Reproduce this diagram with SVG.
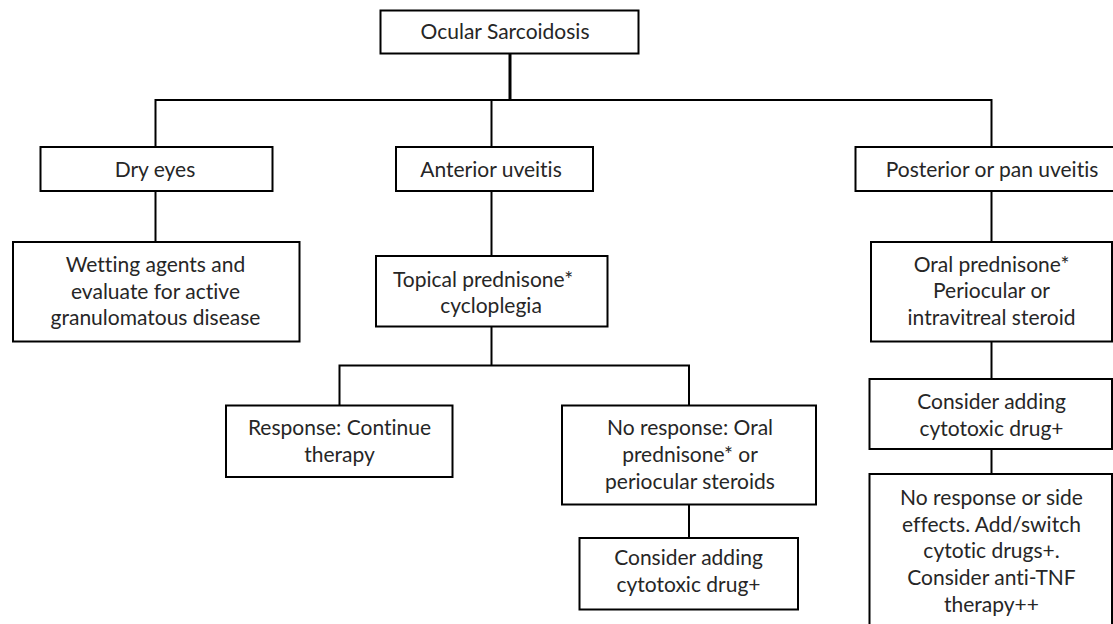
<svg xmlns="http://www.w3.org/2000/svg" width="1113" height="624" viewBox="0 0 1113 624">
<style>
  .box{fill:#fff;stroke:#000;stroke-width:2}
  .ln{fill:none;stroke:#000;stroke-width:2}
  text{font-family:Lato,"Liberation Sans",sans-serif;font-size:21px;fill:#262626;text-anchor:middle;font-variant-ligatures:none}
</style>
<rect width="1113" height="624" fill="#fff"/>
<g id="connectors">
  <path class="ln" d="M510,53 V100" style="stroke-width:3"/>
  <path class="ln" d="M155.5,147 V100 H991.5 V147"/>
  <path class="ln" d="M491.5,100 V147"/>
  <path class="ln" d="M155.5,191 V242"/>
  <path class="ln" d="M491.5,191 V256"/>
  <path class="ln" d="M491.5,326 V365.5"/>
  <path class="ln" d="M339.5,405 V365.5 H689 V405"/>
  <path class="ln" d="M689,504 V538"/>
  <path class="ln" d="M991.5,191 V242"/>
  <path class="ln" d="M991.5,341 V379"/>
  <path class="ln" d="M991.5,449 V474"/>
</g>
<g id="root">
  <rect class="box" x="380.5" y="10.5" width="258" height="43"/>
  <text x="505" y="38.5">Ocular Sarcoidosis</text>
</g>
<g id="dry-eyes">
  <rect class="box" x="40.5" y="147" width="232" height="44"/>
  <text x="155" y="177">Dry eyes</text>
</g>
<g id="anterior">
  <rect class="box" x="396" y="147" width="197" height="44"/>
  <text x="491" y="177">Anterior uveitis</text>
</g>
<g id="posterior">
  <rect class="box" x="855.5" y="147" width="280" height="44"/>
  <text x="992" y="177">Posterior or pan uveitis</text>
</g>
<g id="wetting">
  <rect class="box" x="13" y="242" width="286.5" height="99.5"/>
  <text x="155.5" y="272">Wetting agents and</text>
  <text x="155.5" y="298.7">evaluate for active</text>
  <text x="155.5" y="325.3">granulomatous disease</text>
</g>
<g id="topical">
  <rect class="box" x="376" y="256" width="231.5" height="70.5"/>
  <text x="483" y="286.7">Topical prednisone*</text>
  <text x="491" y="313.3">cycloplegia</text>
</g>
<g id="oral">
  <rect class="box" x="871" y="242" width="241" height="99.5"/>
  <text x="991.5" y="271.7">Oral prednisone*</text>
  <text x="991.5" y="298.3">Periocular or</text>
  <text x="991.5" y="325">intravitreal steroid</text>
</g>
<g id="response">
  <rect class="box" x="226" y="405.5" width="226.5" height="71.5"/>
  <text x="339.5" y="435.3">Response: Continue</text>
  <text x="339.5" y="462">therapy</text>
</g>
<g id="no-response">
  <rect class="box" x="562" y="405.5" width="254" height="99"/>
  <text x="690" y="435.3">No response: Oral</text>
  <text x="690" y="462">prednisone* or</text>
  <text x="690" y="488.7">periocular steroids</text>
</g>
<g id="consider-left">
  <rect class="box" x="579.5" y="538" width="218.5" height="71.5"/>
  <text x="688.5" y="565.3">Consider adding</text>
  <text x="688.5" y="592">cytotoxic drug+</text>
</g>
<g id="consider-right">
  <rect class="box" x="869.5" y="379" width="242.5" height="70"/>
  <text x="991.5" y="409">Consider adding</text>
  <text x="991.5" y="435.5">cytotoxic drug+</text>
</g>
<g id="no-response-right">
  <rect class="box" x="869.5" y="474" width="242.5" height="160"/>
  <text x="991.5" y="505">No response or side</text>
  <text x="991.5" y="531.7">effects. Add/switch</text>
  <text x="991.5" y="558.3">cytotic drugs+.</text>
  <text x="991.5" y="585">Consider anti-TNF</text>
  <text x="991.5" y="611.7">therapy++</text>
</g>
</svg>
